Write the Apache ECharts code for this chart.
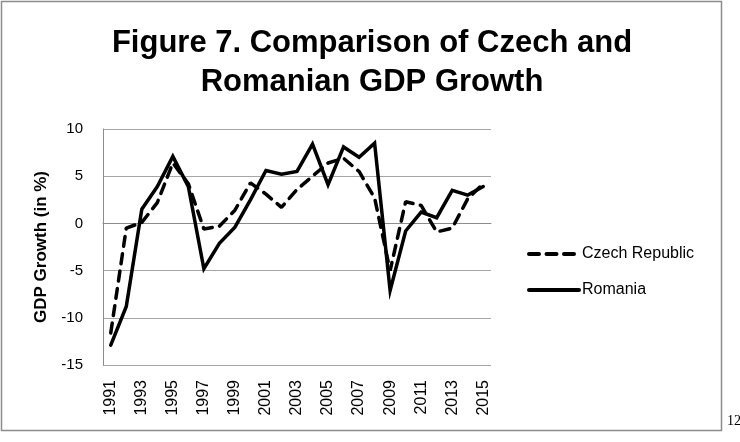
<!DOCTYPE html>
<html>
<head>
<meta charset="utf-8">
<script src="https://cdn.jsdelivr.net/npm/echarts@6/dist/echarts.min.js"></script>
<style>
html,body{margin:0;padding:0;background:#fff;}
#chart{width:740px;height:442px;}
</style>
</head>
<body>
<div id="chart"></div>
<script>
const years = ['1991','1992','1993','1994','1995','1996','1997','1998','1999','2000','2001','2002','2003','2004','2005','2006','2007','2008','2009','2010','2011','2012','2013','2014','2015'];
const czech = [-11.6,-0.5,0.1,2.2,6.4,4.2,-0.6,-0.3,1.4,4.3,3.1,1.7,3.6,5.0,6.4,6.9,5.5,2.7,-5.0,2.3,1.9,-0.9,-0.5,2.6,4.2];
const romania = [-12.9,-8.8,1.5,3.9,7.1,3.9,-4.8,-2.1,-0.4,2.5,5.6,5.2,5.5,8.4,4.1,8.1,7.0,8.5,-7.1,-0.8,1.2,0.6,3.5,3.0,3.9];
const yTicks = {min:-15, max:10, interval:5};
const titleLines = ['Figure 7. Comparison of Czech and', 'Romanian GDP Growth'];
const seriesNames = ['Czech Republic', 'Romania'];
const pageNumber = '12';

const chart = echarts.init(document.getElementById('chart'), null, {renderer:'canvas'});
const font = '"Liberation Sans", Arial, sans-serif';
chart.setOption({
  backgroundColor:'#fff',
  animation:false,
  title:{
    text: titleLines.join('\n'),
    left: 367, top: 19, textAlign:'center',
    textStyle:{fontFamily:font, fontWeight:'bold', fontSize:31, color:'#000', lineHeight:39}
  },
  legend:{
    orient:'vertical', left:522, top:241, itemWidth:50, itemHeight:14, itemGap:20,
    itemStyle:{opacity:0},
    lineStyle:{width:4},
    textStyle:{fontFamily:font, fontSize:16, color:'#000', padding:[0,0,0,-2]},
    data: seriesNames
  },
  grid:{left:103, right:249, top:129, bottom:77, containLabel:false},
  xAxis:{
    type:'category', data: years, boundaryGap:true,
    axisLine:{lineStyle:{color:'#8c8c8c', width:1}},
    axisTick:{show:false},
    axisLabel:{rotate:90, interval:1, margin:15, fontFamily:font, fontSize:16, color:'#000'}
  },
  yAxis:{
    type:'value', min:yTicks.min, max:yTicks.max, interval:yTicks.interval,
    name:'GDP Growth (in %)', nameLocation:'middle', nameGap:53,
    nameTextStyle:{fontFamily:font, fontWeight:'bold', fontSize:17, color:'#000'},
    axisLine:{show:true, lineStyle:{color:'#8c8c8c', width:1}},
    axisTick:{show:false},
    axisLabel:{margin:20, fontFamily:font, fontSize:15, color:'#000'},
    splitLine:{lineStyle:{color:'#a6a6a6', width:1.2}}
  },
  series:[
    {name:seriesNames[0], type:'line', data:czech, symbol:'none', z:3,
     lineStyle:{color:'#000', width:3.5, type:[10,7.5], cap:'round'}, itemStyle:{color:'#000'}},
    {name:seriesNames[1], type:'line', data:romania, symbol:'none', z:4,
     lineStyle:{color:'#000', width:3.5, type:'solid', cap:'round', join:'miter'}, itemStyle:{color:'#000'}}
  ],
  graphic:[
    {type:'rect', shape:{x:1.5, y:1.5, width:720, height:429}, style:{fill:'none', stroke:'#8c8c8c', lineWidth:1.5}, silent:true, z:-1},
    {type:'text', left:727, top:414, style:{text:pageNumber, font:'14px "Liberation Serif", serif', fill:'#000'}}
  ]
});
</script>
</body>
</html>
